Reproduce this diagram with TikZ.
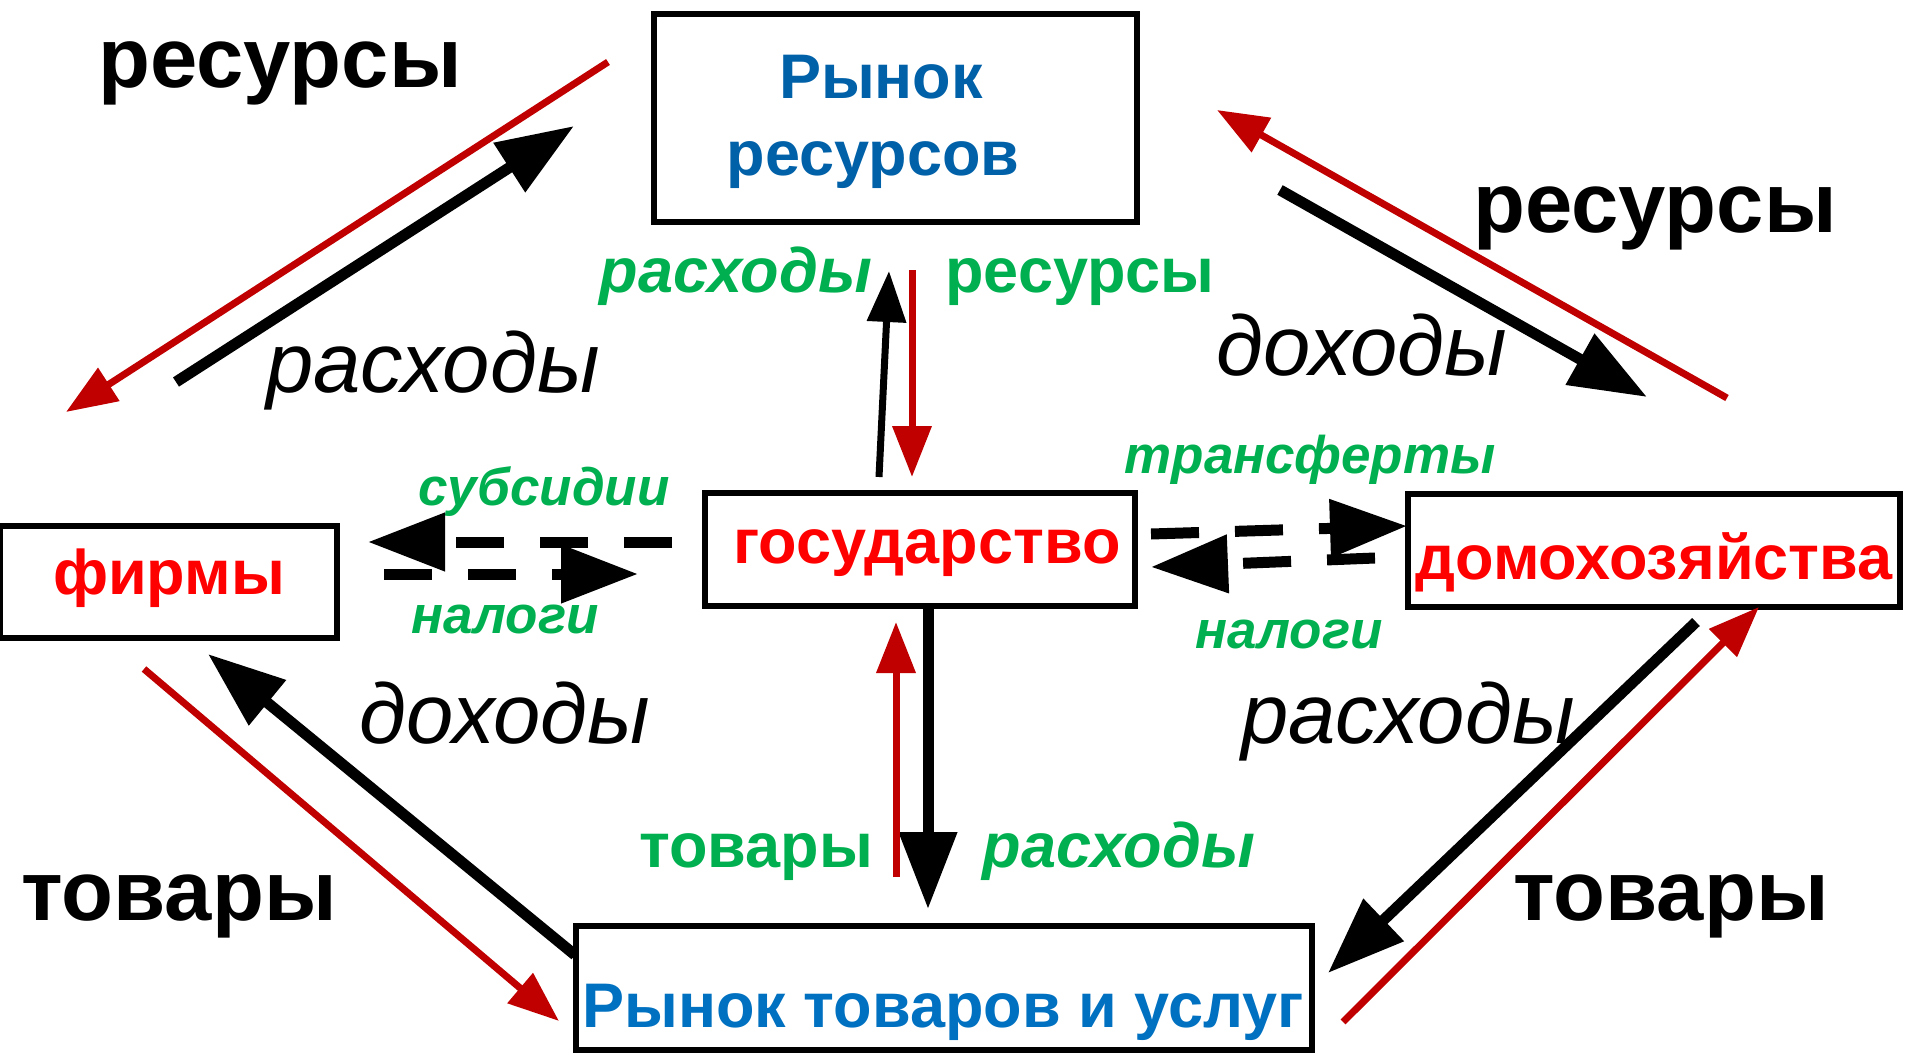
\documentclass[tikz,border=0pt]{standalone}
\usepackage{fontspec}
\setmainfont{Liberation Sans}
\usetikzlibrary{arrows.meta}
\definecolor{arrred}{HTML}{C00000}
\definecolor{txtred}{HTML}{FF0000}
\definecolor{grn}{HTML}{00B050}
\definecolor{blueA}{HTML}{0060A8}
\definecolor{blueB}{HTML}{0070C0}
\begin{document}
\begin{tikzpicture}[x=0.5pt,y=-0.5pt,
  box/.style={draw=black,line width=3pt,inner sep=0pt,outer sep=0pt},
  boxtxt/.style={anchor=base,inner sep=0pt,font=\fontsize{31.5}{38}\selectfont\bfseries},
  biglbl/.style={anchor=base,inner sep=0pt,font=\fontsize{42.5}{50}\selectfont\bfseries},
  itlbl/.style={anchor=base,inner sep=0pt,font=\fontsize{42.5}{50}\selectfont\itshape},
  glbl/.style={anchor=base,inner sep=0pt,text=grn,font=\fontsize{31.5}{38}\selectfont\bfseries},
  gsm/.style={anchor=base,inner sep=0pt,text=grn,font=\fontsize{26.5}{32}\selectfont\bfseries\itshape},
  thickarr/.style={black,line width=5.5pt,-{Triangle[length=38.5pt,width=28pt]}},
  redarr/.style={arrred,line width=3.5pt,-{Triangle[length=25.5pt,width=19pt]}},
  thinblk/.style={black,line width=3.5pt,-{Triangle[length=25.5pt,width=19pt]}},
  dasharr/.style={black,line width=5.5pt,dash pattern=on 24pt off 18pt,-{Triangle[length=38.5pt,width=28pt]}},
]
\useasboundingbox (0,0) rectangle (1907,1054);
% boxes
\node[box,minimum width=241.5pt,minimum height=104pt] (res) at (895.5,118) {};
\node[box,minimum width=168.5pt,minimum height=56pt] (firm) at (168.5,582) {};
\node[box,minimum width=215pt,minimum height=56.5pt] (gov) at (920,549.5) {};
\node[box,minimum width=246pt,minimum height=56.5pt] (hh) at (1654,550) {};
\node[box,minimum width=368pt,minimum height=62pt] (mkt) at (944,988) {};
% box texts
\node[boxtxt,text=blueA] (t1) at (881,99) {Рынок};
\node[boxtxt,text=blueA] (t2) at (873,176) {ресурсов};
\node[boxtxt,text=txtred] (t3) at (169,594) {фирмы};
\node[boxtxt,text=txtred] (t4) at (927,563) {государство};
\node[boxtxt,text=txtred] (t5) at (1654,579) {домохозяйства};
\node[boxtxt,text=blueB] (t6) at (943,1027) {Рынок товаров и услуг};
% big black labels
\node[biglbl] (l1) at (280,88) {ресурсы};
\node[biglbl] (l2) at (1655,232) {ресурсы};
\node[biglbl] (l3) at (179,920) {товары};
\node[biglbl] (l4) at (1671,920) {товары};
% italic labels
\node[itlbl] (l5) at (433,392) {расходы};
\node[itlbl] (l6) at (1362,375) {доходы};
\node[itlbl] (l7) at (505,743) {доходы};
\node[itlbl] (l8) at (1408,743) {расходы};
% green labels
\node[glbl,font=\fontsize{31.5}{38}\selectfont\bfseries\itshape] (g1) at (736,292) {расходы};
\node[glbl] (g2) at (1080,292) {ресурсы};
\node[glbl] (g3) at (756,867) {товары};
\node[glbl,font=\fontsize{31.5}{38}\selectfont\bfseries\itshape] (g4) at (1119,867) {расходы};
\node[gsm] (g5) at (544,505) {субсидии};
\node[gsm] (g6) at (505,633) {налоги};
\node[gsm] (g7) at (1310,473) {трансферты};
\node[gsm] (g8) at (1289,648) {налоги};
% arrow end points
\coordinate (tlr1) at (608,62);   \coordinate (tlr2) at (66,412);
\coordinate (tlb1) at (176,382);  \coordinate (tlb2) at (574,126);
\coordinate (trr1) at (1727,398); \coordinate (trr2) at (1217,110);
\coordinate (trb1) at (1280,190); \coordinate (trb2) at (1647,397);
\coordinate (ctb1) at (879,477);  \coordinate (ctb2) at (889,271);
\coordinate (ctr1) at (912,270);  \coordinate (ctr2) at (912,477);
\coordinate (cbb2) at (928,909);
\coordinate (cbr1) at (896,877);  \coordinate (cbr2) at (896,622);
\coordinate (blr1) at (144,669);  \coordinate (blr2) at (559,1021);
\coordinate (blb1) at (575,955);  \coordinate (blb2) at (208,654);
\coordinate (brb1) at (1696,622); \coordinate (brb2) at (1328,973);
\coordinate (brr1) at (1343,1022);\coordinate (brr2) at (1759,607);
\coordinate (dl1a) at (672,542);  \coordinate (dl1b) at (368,542);
\coordinate (dl2a) at (384,574);  \coordinate (dl2b) at (638,574);
\coordinate (dr1a) at (1151,534); \coordinate (dr1b) at (1407,526);
\coordinate (dr2a) at (1375,558); \coordinate (dr2b) at (1151,567);
% arrows
\draw[redarr] (tlr1) -- (tlr2);
\draw[thickarr] (tlb1) -- (tlb2);
\draw[redarr] (trr1) -- (trr2);
\draw[thickarr] (trb1) -- (trb2);
\draw[thinblk] (ctb1) -- (ctb2);
\draw[redarr] (ctr1) -- (ctr2);
\draw[thickarr] (gov.south -| cbb2) -- (cbb2);
\draw[redarr] (cbr1) -- (cbr2);
\draw[redarr] (blr1) -- (blr2);
\draw[thickarr] (blb1) -- (blb2);
\draw[thickarr] (brb1) -- (brb2);
\draw[redarr] (brr1) -- (brr2);
\draw[dasharr] (dl1a) -- (dl1b);
\draw[dasharr] (dl2a) -- (dl2b);
\draw[dasharr] (dr1a) -- (dr1b);
\draw[dasharr] (dr2a) -- (dr2b);
\end{tikzpicture}
\end{document}
